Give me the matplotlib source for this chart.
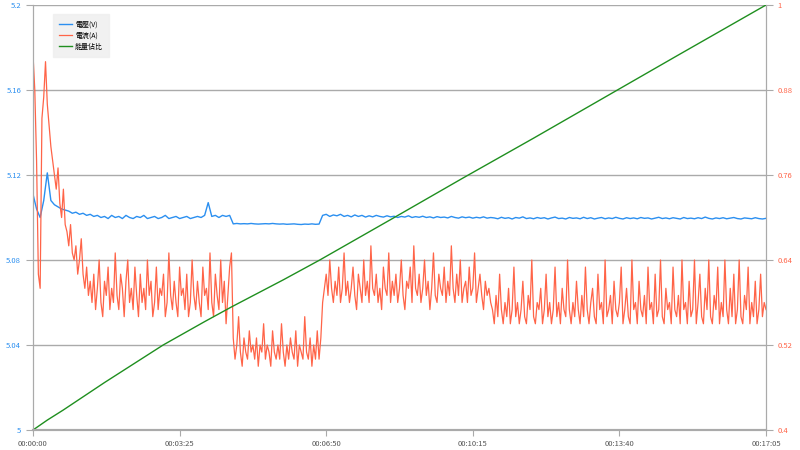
import matplotlib
matplotlib.use('Agg')
import matplotlib.pyplot as plt
import numpy as np

plt.rcParams['font.family'] = ['Noto Sans CJK TC', 'DejaVu Sans']

# Voltage (V), one sample every 5 s, 0 .. 1025 s
voltage = [
    5.111, 5.104, 5.100, 5.108, 5.121, 5.108, 5.106, 5.105, 5.104, 5.1035,
    5.103, 5.102, 5.1025, 5.1015, 5.102, 5.101, 5.1015,
    5.1005, 5.1010, 5.1000, 5.1005, 5.0995, 5.1010, 5.1000, 5.1005, 5.0995, 5.1010,
    5.1000, 5.0995, 5.1005, 5.1000, 5.1010, 5.0995, 5.1000, 5.1005, 5.0995, 5.1000,
    5.1010, 5.0995, 5.1000, 5.1005, 5.0995, 5.1000, 5.1005, 5.0995, 5.1000, 5.1005,
    5.1000, 5.1010, 5.1070, 5.1005, 5.1010, 5.1000, 5.1010, 5.1005, 5.1010,
    5.0970, 5.0972, 5.0970, 5.0971, 5.0970, 5.0972, 5.0970, 5.0969, 5.0970, 5.0971,
    5.0970, 5.0972, 5.0970, 5.0969, 5.0970, 5.0968, 5.0969, 5.0970, 5.0968, 5.0967,
    5.0969, 5.0968, 5.0970, 5.0968, 5.0969,
    5.1010, 5.1015, 5.1005, 5.1012, 5.1008, 5.1015, 5.1005, 5.1010, 5.1003, 5.1012,
    5.1005, 5.1010, 5.1002, 5.1008, 5.1003, 5.1010, 5.1005, 5.1002, 5.1008, 5.1003,
    5.1006, 5.1000, 5.1005, 5.1002, 5.1008, 5.1000, 5.1004, 5.1001, 5.1006, 5.1000,
    5.1003, 5.0998, 5.1004, 5.1000, 5.1002, 5.0998, 5.1005, 5.1000, 5.0997, 5.1003,
    5.0999, 5.1002, 5.0997, 5.1001, 5.0998, 5.1003, 5.0997, 5.1000,
    5.0998, 5.0994, 5.1001, 5.0996, 5.0999, 5.0993, 5.1000, 5.0997, 5.1003, 5.0995,
    5.0998, 5.0994, 5.1000, 5.0996, 5.0999, 5.0993, 5.0998, 5.1002, 5.0995, 5.0997,
    5.0993, 5.1000, 5.0996, 5.0998, 5.0994, 5.1001, 5.0995, 5.0999, 5.0993, 5.0997,
    5.1000, 5.0994, 5.0998, 5.0995, 5.1001, 5.0996, 5.0993, 5.0999, 5.0995, 5.0998,
    5.0994, 5.1000, 5.0996, 5.0998, 5.0993, 5.0997, 5.1001, 5.0995, 5.0998, 5.0994,
    5.0999, 5.0996, 5.0993, 5.1000, 5.0995, 5.0997, 5.0994, 5.0999, 5.0995, 5.1002,
    5.0996, 5.0993, 5.0998, 5.0995, 5.0999, 5.0994, 5.0997, 5.1000, 5.0995, 5.0993,
    5.0998, 5.0996, 5.0994, 5.0999, 5.0995, 5.0993, 5.0996,
]

# Current (A), one sample every 2.5 s, 0 .. 1025 s
current = [
    # 0 .. 80 s
    0.93, 0.88, 0.78, 0.62, 0.60, 0.84, 0.87, 0.92, 0.86, 0.83,
    0.80, 0.78, 0.76, 0.74, 0.77, 0.72, 0.70, 0.74, 0.69, 0.68,
    0.66, 0.69, 0.65, 0.64, 0.66, 0.62, 0.64, 0.67, 0.62, 0.60,
    0.63, 0.59, 0.61,
    # 82.5 .. 277.5 s
    0.58, 0.62, 0.57, 0.60, 0.64, 0.58, 0.56, 0.61, 0.59, 0.63,
    0.57, 0.60, 0.58, 0.65, 0.59, 0.57, 0.62, 0.60, 0.56, 0.61,
    0.64, 0.58, 0.60, 0.57, 0.63, 0.59, 0.56, 0.62, 0.58, 0.60,
    0.57, 0.64, 0.59, 0.61, 0.56, 0.58, 0.63, 0.57, 0.60, 0.59,
    0.62, 0.56, 0.58, 0.65, 0.59, 0.57, 0.61, 0.58, 0.56, 0.63,
    0.59, 0.60, 0.57, 0.62, 0.56, 0.58, 0.64, 0.59, 0.57, 0.61,
    0.58, 0.56, 0.63, 0.59, 0.60, 0.57, 0.65, 0.58, 0.56, 0.62,
    0.59, 0.57, 0.64, 0.58, 0.61, 0.55, 0.59, 0.63, 0.65,
    # 280 .. 402.5 s
    0.53, 0.50, 0.52, 0.56, 0.51, 0.49, 0.53, 0.51, 0.50, 0.54,
    0.51, 0.52, 0.50, 0.53, 0.49, 0.52, 0.51, 0.55, 0.50, 0.52,
    0.51, 0.49, 0.54, 0.51, 0.50, 0.52, 0.50, 0.55, 0.51, 0.49,
    0.52, 0.50, 0.53, 0.51, 0.50, 0.54, 0.49, 0.52, 0.51, 0.50,
    0.56, 0.51, 0.50, 0.53, 0.49, 0.52, 0.50, 0.54, 0.50, 0.53,
    # 405 .. 640 s
    0.58, 0.60, 0.62, 0.59, 0.64, 0.60, 0.58, 0.61, 0.59, 0.63,
    0.58, 0.60, 0.65, 0.59, 0.61, 0.58, 0.60, 0.63, 0.59, 0.57,
    0.62, 0.60, 0.58, 0.64, 0.59, 0.61, 0.58, 0.66, 0.60, 0.59,
    0.62, 0.58, 0.60, 0.57, 0.63, 0.60, 0.59, 0.65, 0.58, 0.61,
    0.59, 0.62, 0.58, 0.60, 0.64, 0.59, 0.57, 0.61, 0.60, 0.63,
    0.58, 0.66, 0.60, 0.59, 0.62, 0.58, 0.60, 0.64, 0.59, 0.61,
    0.57, 0.60, 0.65, 0.59, 0.58, 0.62, 0.60, 0.59, 0.63, 0.58,
    0.61, 0.59, 0.66, 0.60, 0.58, 0.62, 0.59, 0.64, 0.58, 0.60,
    0.61, 0.58, 0.63, 0.59, 0.60, 0.65, 0.58, 0.60, 0.62, 0.59,
    0.57, 0.61, 0.59, 0.60, 0.58,
    # 642.5 .. 1025 s
    0.57, 0.55, 0.59, 0.56, 0.62, 0.57, 0.55, 0.58, 0.56, 0.60,
    0.55, 0.57, 0.63, 0.56, 0.58, 0.55, 0.57, 0.61, 0.56, 0.55,
    0.59, 0.57, 0.64, 0.56, 0.55, 0.58, 0.57, 0.60, 0.55, 0.57,
    0.62, 0.56, 0.58, 0.55, 0.57, 0.63, 0.56, 0.58, 0.55, 0.60,
    0.57, 0.56, 0.64, 0.57, 0.55, 0.58, 0.56, 0.61, 0.57, 0.55,
    0.59, 0.56, 0.63, 0.57, 0.55, 0.58, 0.60, 0.56, 0.55, 0.62,
    0.57, 0.58, 0.55, 0.64, 0.56, 0.57, 0.59, 0.55, 0.61, 0.57,
    0.56, 0.58, 0.63, 0.55, 0.57, 0.60, 0.56, 0.55, 0.64, 0.57,
    0.58, 0.55, 0.61, 0.57, 0.56, 0.59, 0.55, 0.63, 0.57, 0.58,
    0.55, 0.62, 0.56, 0.57, 0.64, 0.56, 0.55, 0.60, 0.57, 0.58,
    0.55, 0.63, 0.57, 0.56, 0.59, 0.55, 0.64, 0.57, 0.58, 0.55,
    0.61, 0.56, 0.57, 0.64, 0.55, 0.58, 0.62, 0.56, 0.55, 0.60,
    0.57, 0.64, 0.56, 0.55, 0.59, 0.57, 0.63, 0.55, 0.58, 0.56,
    0.64, 0.57, 0.55, 0.60, 0.56, 0.62, 0.55, 0.57, 0.64, 0.56,
    0.55, 0.59, 0.57, 0.63, 0.55, 0.58, 0.56, 0.61, 0.55, 0.57,
    0.62, 0.56, 0.58, 0.57,
]

# Energy share, sparse points (smooth curve)
energy_t = [0, 20, 42, 100, 182, 240, 278, 296, 350, 401,
            500, 600, 700, 800, 900, 1025]
energy = [0.400, 0.414, 0.428, 0.467, 0.520, 0.553, 0.574, 0.5835, 0.612, 0.640,
          0.697, 0.755, 0.812, 0.870, 0.928, 1.000]

xticks = [0, 205, 410, 615, 820, 1025]
xlabels = ['00:00:00', '00:03:25', '00:06:50', '00:10:15', '00:13:40', '00:17:05']

c_blue = '#2b8ff0'
c_red = '#ff6448'
c_green = '#1f8f1f'
c_grid = '#aaaaaa'

t_v = np.linspace(0, 1025, len(voltage))
t_i = np.linspace(0, 1025, len(current))

fig = plt.figure(figsize=(8, 4.5), dpi=100)
ax = fig.add_axes([33/800, 20/450, 733/800, 425/450])
ax2 = ax.twinx()

l1, = ax.plot(t_v, voltage, color=c_blue, lw=1.0, label='電壓(V)', zorder=3)
l2, = ax2.plot(t_i, current, color=c_red, lw=0.9, label='電流(A)', zorder=2)
l3, = ax2.plot(energy_t, energy, color=c_green, lw=1.0, label='能量佔比', zorder=2)

ax.set_xlim(0, 1025)
ax.set_ylim(5, 5.2)
ax2.set_ylim(0.4, 1.0)
ax.set_yticks([5, 5.04, 5.08, 5.12, 5.16, 5.2])
ax.set_yticklabels(['5', '5.04', '5.08', '5.12', '5.16', '5.2'])
ax2.set_yticks([0.4, 0.52, 0.64, 0.76, 0.88, 1.0])
ax2.set_yticklabels(['0.4', '0.52', '0.64', '0.76', '0.88', '1'])
ax.set_xticks(xticks)
ax.set_xticklabels(xlabels)

ax.grid(axis='y', color=c_grid, lw=1.0)
ax.set_axisbelow(True)

for a in (ax, ax2):
    a.spines['top'].set_visible(False)
    a.spines['left'].set_color(c_grid)
    a.spines['right'].set_color(c_grid)
    a.spines['bottom'].set_color(c_grid)
    a.spines['bottom'].set_linewidth(1.5)

ax.tick_params(axis='y', colors=c_grid, labelcolor=c_blue, labelsize=5.5, length=5)
ax2.tick_params(axis='y', colors=c_grid, labelcolor=c_red, labelsize=5.5, length=5)
ax.tick_params(axis='x', colors=c_grid, labelcolor='#555555', labelsize=5.5, length=4)

leg = ax.legend(handles=[l1, l2, l3], loc='upper left', bbox_to_anchor=(0.027, 0.978),
                fontsize=5, frameon=True, fancybox=False, handlelength=1.9,
                handletextpad=0.4, borderpad=0.9, labelspacing=0.45,
                borderaxespad=0)
leg.get_frame().set_facecolor('#eeeeee')
leg.get_frame().set_edgecolor('#eeeeee')
leg.set_zorder(10)

fig.savefig('out.png', dpi=100)
